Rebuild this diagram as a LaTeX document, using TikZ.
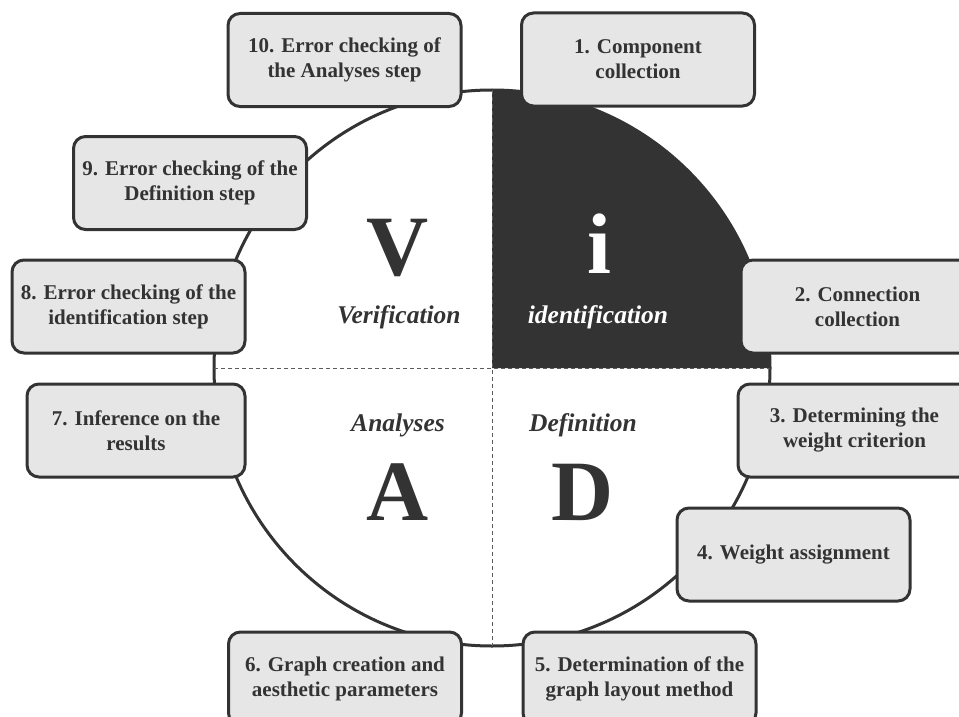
\documentclass[tikz,border=0pt]{standalone}
\usepackage{fontspec}
\setmainfont{Liberation Serif}
\definecolor{ink}{HTML}{333333}
\definecolor{boxfill}{HTML}{E6E6E6}
\tikzset{
  stepbox/.style={draw=ink, fill=boxfill, line width=3pt, rounded corners=12pt,
    minimum width=233pt, minimum height=93pt, align=center, text=ink,
    font=\fontsize{21}{25}\selectfont\bfseries, inner sep=0pt},
  bigletter/.style={text=ink, font=\fontsize{86}{86}\selectfont\bfseries, inner sep=0pt},
  phase/.style={text=ink, font=\fontsize{25.5}{28}\selectfont\bfseries\itshape, inner sep=0pt},
  divider/.style={draw=ink!80, line width=1pt, dash pattern=on 4pt off 3pt}
}
\begin{document}
\begin{tikzpicture}[x=1pt,y=-1pt]
\path[use as bounding box] (0,0) rectangle (959,717);
\clip (0,0) rectangle (959,717);
\coordinate (c) at (492,368);
% dark quadrant
\fill[ink] (c) -- (492,90) arc[start angle=90,end angle=0,radius=278pt] -- cycle;
% ring
\draw[ink, line width=3pt] (c) circle[radius=278pt];
% dividers
\coordinate (top) at (492,90);
\coordinate (bot) at (492,646);
\coordinate (lft) at (214,368);
\coordinate (rgt) at (770,368);
\draw[divider] (top) -- (bot);
\draw[divider] (lft) -- (rgt);
% letters
\node[bigletter, anchor=base] (V) at (398,275) {V};
\node[bigletter, anchor=base, text=white] (I) at (599,273) {i};
\node[bigletter, anchor=base] (A) at (398,520) {A};
\node[bigletter, anchor=base] (D) at (583,520) {D};
\node[phase, anchor=base] (ver) at (399,323) {Verification};
\node[phase, anchor=base, text=white] (ide) at (598,323) {identification};
\node[phase, anchor=base] (ana) at (398,431) {Analyses};
\node[phase, anchor=base] (def) at (583,431) {Definition};
% steps
\node[stepbox] (s1) at (638,59.5) {1. Component\\collection};
\node[stepbox] (s2) at (857.5,306.5) {2. Connection\\collection};
\node[stepbox] (s3) at (854.5,430.5) {3. Determining the\\weight criterion};
\node[stepbox] (s4) at (793.5,554.5) {4. Weight assignment};
\node[stepbox] (s5) at (639.5,678.5) {5. Determination of the\\graph layout method};
\node[stepbox] (s6) at (345,678.5) {6. Graph creation and\\aesthetic parameters};
\node[stepbox, minimum width=218pt] (s7) at (136,430.5) {7. Inference on the\\results};
\node[stepbox] (s8) at (128.5,306.5) {8. Error checking of the\\identification step};
\node[stepbox] (s9) at (190,183) {9. Error checking of the\\Definition step};
\node[stepbox] (s10) at (344.5,60) {10. Error checking of\\the Analyses step};
\end{tikzpicture}
\end{document}
